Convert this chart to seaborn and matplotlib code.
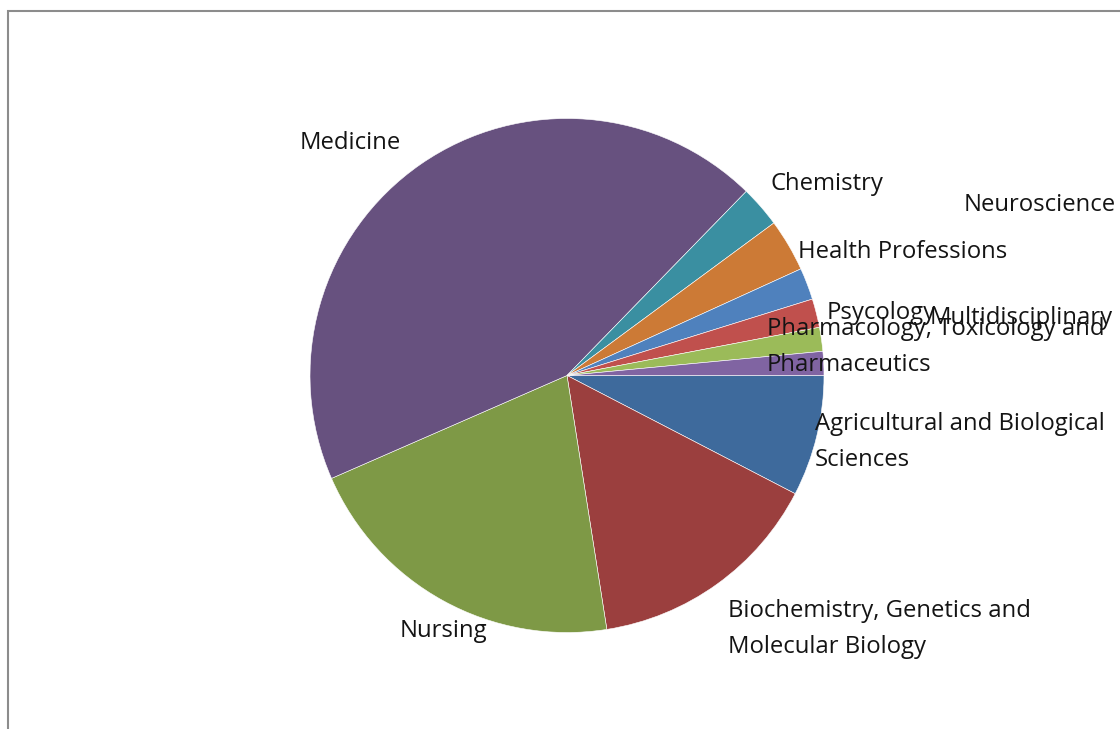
"""
Pie chart of publications by subject area (Excel-style layout).
"""

import matplotlib
matplotlib.use("Agg")
import matplotlib.pyplot as plt
import seaborn as sns
from matplotlib.patches import Rectangle

sns.set_theme(style="white")
plt.rcParams["font.family"] = ["Open Sans", "DejaVu Sans"]

W, H = 1120, 729

# Data (share of documents)
subjects = [
    "Agricultural and Biological Sciences",
    "Biochemistry, Genetics and Molecular Biology",
    "Nursing",
    "Medicine",
    "Chemistry",
    "Health Professions",
    "Neuroscience",
    "Psycology",
    "Multidisciplinary",
    "Pharmacology, Toxicology and Pharmaceutics",
]
shares = [7.6, 14.9, 20.9, 43.8, 2.6, 3.3, 2.0, 1.8, 1.5, 1.5]
colors = [
    "#3e6a9c", "#9b3f3e", "#7e9946", "#67517f", "#3a8fa1",
    "#cc7a36", "#4f81bd", "#c0504d", "#9bbb59", "#8064a2",
]

# Label lines and pixel anchors (left x, baseline y) as Excel placed them
label_lines = [
    ["Agricultural and Biological", "Sciences"],
    ["Biochemistry, Genetics and", "Molecular Biology"],
    ["Nursing"],
    ["Medicine"],
    ["Chemistry"],
    ["Health Professions"],
    ["Neuroscience"],
    ["Psycology"],
    ["Multidisciplinary"],
    ["Pharmacology, Toxicology and", "Pharmaceutics"],
]
label_pos = [
    (815, 430), (728, 617), (400, 637), (300, 149), (770, 190),
    (798, 258), (964, 211), (827, 319), (930, 324), (767, 335),
]
LINE_STEP = 36

fig = plt.figure(figsize=(W / 100, H / 100), dpi=100)
fig.patch.set_facecolor("white")

# chart frame, cut off at the right and bottom like the screenshot
fig.add_artist(Rectangle((8 / W, -0.1), 1.2, 1.1 - 11 / H, transform=fig.transFigure,
                         fill=False, edgecolor="#8c8c8c", linewidth=1.5))

cx, cy, r = 567, 375.5, 257
ax = fig.add_axes([(cx - r) / W, (H - cy - r) / H, 2 * r / W, 2 * r / H])
ax.pie(shares, colors=colors, startangle=0, counterclock=False,
       wedgeprops=dict(edgecolor="white", linewidth=0.4))
ax.set_xlim(-1, 1)
ax.set_ylim(-1, 1)
ax.set_aspect("equal")
ax.axis("off")

for lines, (lx, ly) in zip(label_lines, label_pos):
    for i, line in enumerate(lines):
        fig.text(lx / W, 1 - (ly + i * LINE_STEP) / H, line, ha="left", va="baseline",
                 fontsize=17.2, color="#141414")

fig.savefig("out.png", dpi=100)
